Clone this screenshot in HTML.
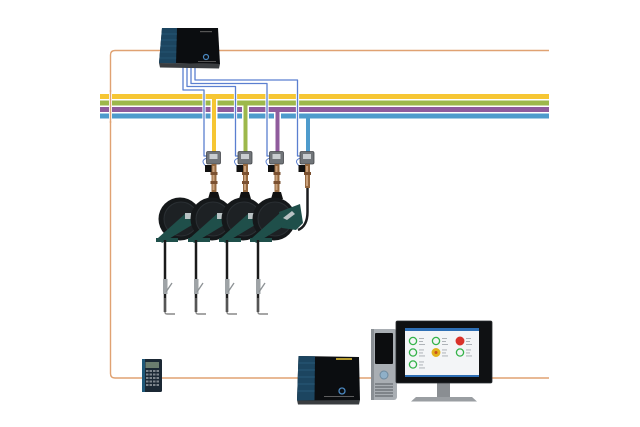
<!DOCTYPE html>
<html><head><meta charset="utf-8"><style>
html,body{margin:0;padding:0;background:#fff;}
svg{display:block;}
</style></head><body>
<svg width="640" height="427" viewBox="0 0 640 427" xmlns="http://www.w3.org/2000/svg" font-family="Liberation Sans, sans-serif">
<rect width="640" height="427" fill="#fff"/>
<!-- orange loop -->
<path d="M549,50.5 H115 Q110.5,50.5 110.5,55 V373.5 Q110.5,378 115,378 H549" fill="none" stroke="#e0a272" stroke-width="1.4"/>
<!-- colored bars -->
<rect x="100" y="94" width="449" height="5" fill="#f6c633"/>
<rect x="100" y="100.5" width="449" height="5" fill="#9db84b"/>
<rect x="100" y="107" width="449" height="5" fill="#8f5b9c"/>
<rect x="100" y="113.5" width="449" height="5" fill="#4e9bcc"/>
<!-- orange over bars -->
<line x1="110.5" y1="92" x2="110.5" y2="121" stroke="#fff" stroke-width="3"/>
<line x1="110.5" y1="90" x2="110.5" y2="123" stroke="#e0a272" stroke-width="1.4"/>
<!-- colored drop pipes -->
<g stroke-linecap="butt">
<line x1="214" y1="99" x2="214" y2="152" stroke="#fff" stroke-width="7"/>
<line x1="214" y1="96" x2="214" y2="153" stroke="#f6c633" stroke-width="4"/>
<line x1="245.5" y1="105.5" x2="245.5" y2="152" stroke="#fff" stroke-width="7"/>
<line x1="245.5" y1="102" x2="245.5" y2="153" stroke="#9db84b" stroke-width="4"/>
<line x1="277.5" y1="112" x2="277.5" y2="152" stroke="#fff" stroke-width="7"/>
<line x1="277.5" y1="109" x2="277.5" y2="153" stroke="#8f5b9c" stroke-width="4"/>
<line x1="308" y1="118" x2="308" y2="153" stroke="#4e9bcc" stroke-width="4"/>
</g>
<!-- wires -->
<g fill="none" stroke-linejoin="round">
<g stroke="#fff" stroke-width="3.2">
<path d="M183,66 V90 H204 V156"/>
<path d="M187,66 V86.5 H235.5 V156"/>
<path d="M191,66 V83.5 H267 V156"/>
<path d="M195,66 V80 H297.5 V156"/>
</g>
<g stroke="#5b7fd0" stroke-width="1.3">
<path d="M183,66 V90 H204 V156 H207"/>
<path d="M187,66 V86.5 H235.5 V156 H238"/>
<path d="M191,66 V83.5 H267 V156 H270"/>
<path d="M195,66 V80 H297.5 V156 H300"/>
</g>
</g>
<!-- top controller -->
<polygon points="159,63 220,64 219,68.5 160,67.5" fill="#3a3d40"/>
<polygon points="162,28 218,28 220,64 159,63" fill="#0b0d10"/>
<polygon points="162,28 177,28 176,63.3 159,63" fill="#1c4560"/>
<g stroke="#2d6080" stroke-width="0.6">
<line x1="161.5" y1="34" x2="177" y2="34"/><line x1="161" y1="40" x2="176.8" y2="40"/>
<line x1="160.6" y1="46" x2="176.6" y2="46"/><line x1="160.3" y1="52" x2="176.4" y2="52"/>
<line x1="159.9" y1="58" x2="176.2" y2="58"/>
</g>
<rect x="200" y="31" width="12" height="1.2" fill="#555"/>
<circle cx="206" cy="57" r="2.5" fill="none" stroke="#4b88c0" stroke-width="1.2"/>
<rect x="198" y="61" width="18" height="0.8" fill="#666"/>
<!-- valves -->
<g>
<g transform="translate(0,0)">
<path d="M207,158 Q201,160 204,164 Q206,167 208,166" fill="none" stroke="#5b7fd0" stroke-width="1"/>
<rect x="206.5" y="151.5" width="14" height="12.5" rx="1.5" fill="#707478" stroke="#45484c" stroke-width="0.8"/>
<rect x="209.5" y="154" width="8" height="5" fill="#c9cdd0"/>
<rect x="205" y="165" width="6.5" height="7" fill="#111"/>
<rect x="211.5" y="164" width="5" height="28" fill="#94683f"/>
<rect x="212.5" y="166" width="2" height="24" fill="#c9a07a"/>
<rect x="210.5" y="172" width="7" height="3" fill="#7a5030"/>
<rect x="210.5" y="181" width="7" height="3" fill="#7a5030"/>
</g>
<g transform="translate(31.5,0)">
<path d="M207,158 Q201,160 204,164 Q206,167 208,166" fill="none" stroke="#5b7fd0" stroke-width="1"/>
<rect x="206.5" y="151.5" width="14" height="12.5" rx="1.5" fill="#707478" stroke="#45484c" stroke-width="0.8"/>
<rect x="209.5" y="154" width="8" height="5" fill="#c9cdd0"/>
<rect x="205" y="165" width="6.5" height="7" fill="#111"/>
<rect x="211.5" y="164" width="5" height="28" fill="#94683f"/>
<rect x="212.5" y="166" width="2" height="24" fill="#c9a07a"/>
<rect x="210.5" y="172" width="7" height="3" fill="#7a5030"/>
<rect x="210.5" y="181" width="7" height="3" fill="#7a5030"/>
</g>
<g transform="translate(63,0)">
<path d="M207,158 Q201,160 204,164 Q206,167 208,166" fill="none" stroke="#5b7fd0" stroke-width="1"/>
<rect x="206.5" y="151.5" width="14" height="12.5" rx="1.5" fill="#707478" stroke="#45484c" stroke-width="0.8"/>
<rect x="209.5" y="154" width="8" height="5" fill="#c9cdd0"/>
<rect x="205" y="165" width="6.5" height="7" fill="#111"/>
<rect x="211.5" y="164" width="5" height="28" fill="#94683f"/>
<rect x="212.5" y="166" width="2" height="24" fill="#c9a07a"/>
<rect x="210.5" y="172" width="7" height="3" fill="#7a5030"/>
<rect x="210.5" y="181" width="7" height="3" fill="#7a5030"/>
</g>
<g transform="translate(93.5,0)">
<path d="M207,158 Q201,160 204,164 Q206,167 208,166" fill="none" stroke="#5b7fd0" stroke-width="1"/>
<rect x="206.5" y="151.5" width="14" height="12.5" rx="1.5" fill="#707478" stroke="#45484c" stroke-width="0.8"/>
<rect x="209.5" y="154" width="8" height="5" fill="#c9cdd0"/>
<rect x="205" y="165" width="6.5" height="7" fill="#111"/>
<rect x="211.5" y="164" width="5" height="24" fill="#94683f"/>
<rect x="212.5" y="166" width="2" height="20" fill="#c9a07a"/>
<rect x="210.5" y="172" width="7" height="3" fill="#7a5030"/>
</g>
</g>
<!-- reel 4 side hose -->
<path d="M307.5,188 V212 Q307.5,226 298,230" fill="none" stroke="#1a1c1e" stroke-width="2.5"/>
<!-- reels -->
<g>
<g>
<path d="M210,192 L218,192 L220,199 L208,199 Z" fill="#111"/>
<circle cx="180" cy="219" r="21.5" fill="#15181a"/>
<circle cx="181" cy="219" r="17" fill="#1d2124" stroke="#2b3034" stroke-width="1"/>
<polygon points="158,238 162,243 192,225 194,214 186,213" fill="#1f4f4a"/>
<rect x="156" y="238" width="22" height="4" fill="#1f4f4a"/>
<rect x="185" y="213" width="6" height="6" fill="#b9c2c4"/>
</g>
<g>
<path d="M241,192 L249,192 L251,199 L239,199 Z" fill="#111"/>
<circle cx="212" cy="219" r="21.5" fill="#15181a"/>
<circle cx="213" cy="219" r="17" fill="#1d2124" stroke="#2b3034" stroke-width="1"/>
<polygon points="190,238 194,243 224,225 226,214 218,213" fill="#1f4f4a"/>
<rect x="188" y="238" width="22" height="4" fill="#1f4f4a"/>
<rect x="217" y="213" width="6" height="6" fill="#b9c2c4"/>
</g>
<g>
<path d="M273,192 L281,192 L283,199 L271,199 Z" fill="#111"/>
<circle cx="243" cy="219" r="21.5" fill="#15181a"/>
<circle cx="244" cy="219" r="17" fill="#1d2124" stroke="#2b3034" stroke-width="1"/>
<polygon points="221,238 225,243 255,225 257,214 249,213" fill="#1f4f4a"/>
<rect x="219" y="238" width="22" height="4" fill="#1f4f4a"/>
<rect x="248" y="213" width="6" height="6" fill="#b9c2c4"/>
</g>
<g>
<circle cx="274" cy="219" r="21.5" fill="#15181a"/>
<circle cx="275" cy="219" r="17" fill="#1d2124" stroke="#2b3034" stroke-width="1"/>
<polygon points="279,212 300,204 303,223 296,230 282,228" fill="#1f4f4a"/>
<polygon points="252,238 256,243 286,225 289,214 280,213" fill="#1f4f4a"/>
<rect x="250" y="238" width="22" height="4" fill="#1f4f4a"/>
<path d="M283,218 L292,211 L295,214 L287,220 Z" fill="#b9c2c4"/>
</g>
</g>
<!-- hoses and guns -->
<g>
<g>
<line x1="165" y1="240" x2="165" y2="312" stroke="#1a1a1a" stroke-width="2.5"/>
<rect x="163" y="279" width="4.5" height="15" fill="#9ea3a6"/>
<line x1="166" y1="292" x2="172" y2="283" stroke="#8c9194" stroke-width="1.3"/>
<line x1="165" y1="298" x2="165" y2="312" stroke="#555" stroke-width="2"/>
<path d="M165,312 Q165,314 167,314 H175" fill="none" stroke="#888" stroke-width="1.4"/>
</g>
<g transform="translate(31,0)">
<line x1="165" y1="240" x2="165" y2="312" stroke="#1a1a1a" stroke-width="2.5"/>
<rect x="163" y="279" width="4.5" height="15" fill="#9ea3a6"/>
<line x1="166" y1="292" x2="172" y2="283" stroke="#8c9194" stroke-width="1.3"/>
<line x1="165" y1="298" x2="165" y2="312" stroke="#555" stroke-width="2"/>
<path d="M165,312 Q165,314 167,314 H175" fill="none" stroke="#888" stroke-width="1.4"/>
</g>
<g transform="translate(62,0)">
<line x1="165" y1="240" x2="165" y2="312" stroke="#1a1a1a" stroke-width="2.5"/>
<rect x="163" y="279" width="4.5" height="15" fill="#9ea3a6"/>
<line x1="166" y1="292" x2="172" y2="283" stroke="#8c9194" stroke-width="1.3"/>
<line x1="165" y1="298" x2="165" y2="312" stroke="#555" stroke-width="2"/>
<path d="M165,312 Q165,314 167,314 H175" fill="none" stroke="#888" stroke-width="1.4"/>
</g>
<g transform="translate(93,0)">
<line x1="165" y1="240" x2="165" y2="312" stroke="#1a1a1a" stroke-width="2.5"/>
<rect x="163" y="279" width="4.5" height="15" fill="#9ea3a6"/>
<line x1="166" y1="292" x2="172" y2="283" stroke="#8c9194" stroke-width="1.3"/>
<line x1="165" y1="298" x2="165" y2="312" stroke="#555" stroke-width="2"/>
<path d="M165,312 Q165,314 167,314 H175" fill="none" stroke="#888" stroke-width="1.4"/>
</g>
</g>
<!-- handheld -->
<rect x="142" y="359" width="20" height="33" rx="1.5" fill="#1b2834"/>
<rect x="142" y="359" width="3" height="33" fill="#1f5878"/>
<rect x="145.5" y="362" width="13.5" height="6" fill="#6b7d6e"/>
<g fill="#7d858c">
<rect x="146" y="370" width="2.5" height="2"/><rect x="149.5" y="370" width="2.5" height="2"/><rect x="153" y="370" width="2.5" height="2"/><rect x="156.5" y="370" width="2.5" height="2"/>
<rect x="146" y="373.5" width="2.5" height="2"/><rect x="149.5" y="373.5" width="2.5" height="2"/><rect x="153" y="373.5" width="2.5" height="2"/><rect x="156.5" y="373.5" width="2.5" height="2"/>
<rect x="146" y="377" width="2.5" height="2"/><rect x="149.5" y="377" width="2.5" height="2"/><rect x="153" y="377" width="2.5" height="2"/><rect x="156.5" y="377" width="2.5" height="2"/>
<rect x="146" y="380.5" width="2.5" height="2"/><rect x="149.5" y="380.5" width="2.5" height="2"/><rect x="153" y="380.5" width="2.5" height="2"/><rect x="156.5" y="380.5" width="2.5" height="2"/>
<rect x="146" y="384" width="2.5" height="2"/><rect x="149.5" y="384" width="2.5" height="2"/><rect x="153" y="384" width="2.5" height="2"/><rect x="156.5" y="384" width="2.5" height="2"/>
</g>
<!-- bottom controller -->
<polygon points="297,400 360,400 359,404.5 298,404.5" fill="#3a3d40"/>
<polygon points="298.5,356 359,357 360,400 297,400.5" fill="#0b0d10"/>
<polygon points="298.5,356 315,356.3 314.5,400.3 297,400.5" fill="#1c4560"/>
<g stroke="#2d6080" stroke-width="0.7">
<line x1="298.3" y1="363" x2="315" y2="363"/><line x1="298.1" y1="370" x2="314.9" y2="370"/>
<line x1="297.9" y1="377" x2="314.8" y2="377"/><line x1="297.7" y1="384" x2="314.7" y2="384"/>
<line x1="297.5" y1="391" x2="314.6" y2="391"/>
</g>
<rect x="336" y="358" width="16" height="2" fill="#b49a2e"/>
<circle cx="342" cy="391" r="3" fill="none" stroke="#4b88c0" stroke-width="1.3"/>
<rect x="324" y="396" width="30" height="0.9" fill="#666"/>
<!-- tower -->
<rect x="371" y="329" width="26" height="71" rx="3" fill="#a9aeb3"/>
<rect x="371" y="329" width="3" height="71" fill="#8a8f94"/>
<rect x="375" y="333" width="18" height="31" rx="1" fill="#0c0d0f"/>
<circle cx="384" cy="375" r="4" fill="#8fb0c8" stroke="#6e8a9e" stroke-width="1"/>
<g stroke="#555a5f" stroke-width="1">
<line x1="375" y1="384" x2="393" y2="384"/><line x1="375" y1="387" x2="393" y2="387"/>
<line x1="375" y1="390" x2="393" y2="390"/><line x1="375" y1="393" x2="393" y2="393"/>
<line x1="375" y1="396" x2="393" y2="396"/>
</g>
<!-- monitor -->
<rect x="437" y="382" width="13" height="15" fill="#8a8e92"/>
<path d="M411,401.5 L416,397 H472 L477,401.5 Z" fill="#9a9ea2"/>
<rect x="396" y="321" width="96" height="62" rx="1.5" fill="#0f1113" stroke="#2a2d30" stroke-width="0.8"/>
<rect x="405" y="328" width="74" height="49" fill="#f3f5f7"/>
<rect x="405" y="328" width="74" height="3" fill="#2e6fb5"/>
<rect x="405" y="375" width="74" height="2" fill="#2e6fb5"/>
<g stroke-width="1.3" fill="none">
<circle cx="413" cy="341" r="3.6" stroke="#35b34a"/>
<circle cx="436" cy="341" r="3.6" stroke="#35b34a"/>
<circle cx="460" cy="341" r="3.8" fill="#d9322a" stroke="#d9322a"/>
<circle cx="413" cy="352.5" r="3.6" stroke="#35b34a"/>
<circle cx="436" cy="352.5" r="3.8" fill="#e2b21c" stroke="#e2b21c"/>
<circle cx="460" cy="352.5" r="3.6" stroke="#35b34a"/>
<circle cx="413" cy="364.5" r="3.6" stroke="#35b34a"/>
</g>
<circle cx="436" cy="352.5" r="1.5" fill="#c8501c"/>
<g fill="#a7acb1">
<rect x="419" y="338" width="5" height="0.9"/><rect x="419" y="341" width="4" height="0.9"/><rect x="419" y="344" width="6" height="0.9"/>
<rect x="442" y="338" width="5" height="0.9"/><rect x="442" y="341" width="4" height="0.9"/><rect x="442" y="344" width="6" height="0.9"/>
<rect x="466" y="338" width="5" height="0.9"/><rect x="466" y="341" width="4" height="0.9"/><rect x="466" y="344" width="6" height="0.9"/>
<rect x="419" y="349.5" width="5" height="0.9"/><rect x="419" y="352.5" width="4" height="0.9"/><rect x="419" y="355.5" width="6" height="0.9"/>
<rect x="442" y="349.5" width="5" height="0.9"/><rect x="442" y="352.5" width="4" height="0.9"/><rect x="442" y="355.5" width="6" height="0.9"/>
<rect x="466" y="349.5" width="5" height="0.9"/><rect x="466" y="352.5" width="4" height="0.9"/><rect x="466" y="355.5" width="6" height="0.9"/>
<rect x="419" y="361.5" width="5" height="0.9"/><rect x="419" y="364.5" width="4" height="0.9"/><rect x="419" y="367.5" width="6" height="0.9"/>
</g>
</svg>
</body></html>
